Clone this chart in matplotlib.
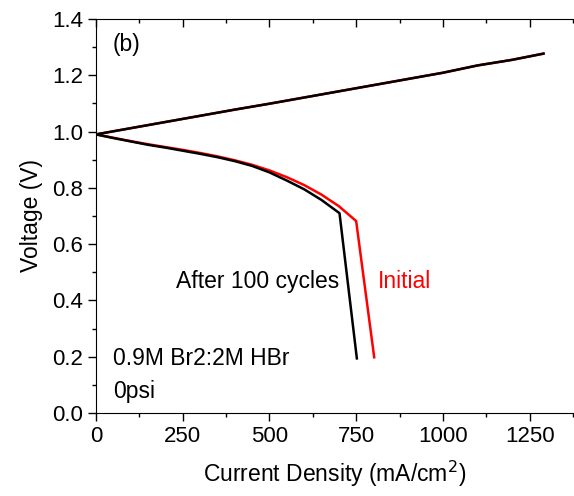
import matplotlib
matplotlib.use("Agg")
from matplotlib import pyplot as plt
from matplotlib.ticker import MultipleLocator

plt.rcParams['font.family'] = ['Liberation Sans', 'DejaVu Sans']

# charge branch (both curves overlap)
charge_j = [0, 100, 200, 300, 400, 500, 600, 700, 800, 900, 1000, 1100, 1200, 1290]
charge_v = [0.99, 1.012, 1.034, 1.056, 1.078, 1.099, 1.121, 1.143, 1.165, 1.187,
            1.209, 1.235, 1.255, 1.277]

# discharge branch
init_j = [0, 50, 100, 150, 200, 250, 300, 350, 400, 450, 500, 550, 600, 650, 700, 750, 802]
init_v = [0.99, 0.978, 0.966, 0.955, 0.945, 0.935, 0.924, 0.912, 0.898, 0.882,
          0.862, 0.838, 0.810, 0.776, 0.735, 0.682, 0.198]

aged_j = [0, 50, 100, 150, 200, 250, 300, 350, 400, 450, 500, 550, 600, 650, 702, 752]
aged_v = [0.99, 0.977, 0.965, 0.953, 0.943, 0.932, 0.921, 0.909, 0.895, 0.878,
          0.855, 0.826, 0.795, 0.757, 0.710, 0.194]

fig = plt.figure(figsize=(5.74, 4.96), dpi=100)
ax = fig.add_axes([96 / 574, 83 / 496, 478 / 574, 394 / 496])

ax.plot(charge_j, charge_v, color='red', lw=1.8)
ax.plot(init_j, init_v, color='red', lw=1.8)
ax.plot(charge_j, charge_v, color='black', lw=1.8)
ax.plot(aged_j, aged_v, color='black', lw=1.8)

ax.set_xlim(0, 1378)
ax.set_ylim(0, 1.4)
ax.xaxis.set_major_locator(MultipleLocator(250))
ax.xaxis.set_minor_locator(MultipleLocator(125))
ax.yaxis.set_major_locator(MultipleLocator(0.2))
ax.yaxis.set_minor_locator(MultipleLocator(0.1))
ax.yaxis.set_major_formatter(plt.FormatStrFormatter('%.1f'))

ax.spines['right'].set_visible(False)
ax.tick_params(which='both', direction='out', labelsize=16, width=1, top=True)
ax.tick_params(which='major', length=6)
ax.tick_params(which='minor', length=3)
# top ticks point inward
for t in ax.xaxis.get_major_ticks() + ax.xaxis.get_minor_ticks():
    t.tick2line.set_marker(3)

ax.set_xlabel('Current Density (mA/cm$^2$)', fontsize=16.5, labelpad=8)
ax.set_ylabel('Voltage (V)', fontsize=16.5, labelpad=6)

ax.text(49, 1.308, '(b)', fontsize=16.5, va='center')
ax.text(231, 0.466, 'After 100 cycles', fontsize=16.5, va='center')
ax.text(813, 0.466, 'Initial', fontsize=16.5, color='red', va='center')
ax.text(49, 0.195, '0.9M Br2:2M HBr', fontsize=16.5, va='center')
ax.text(49, 0.075, '0psi', fontsize=16.5, va='center')

fig.savefig('out.png', dpi=100)
